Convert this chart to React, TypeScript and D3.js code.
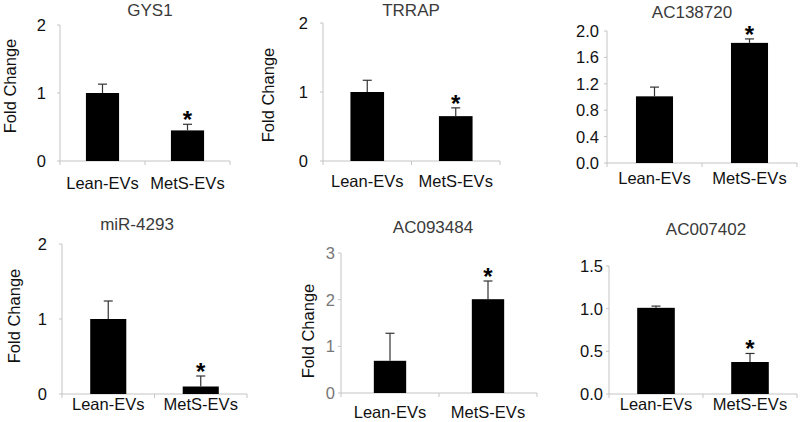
import * as d3 from 'd3';
import React from 'react';

// chart data
const titles = ['GYS1', 'TRRAP', 'AC138720', 'miR-4293', 'AC093484', 'AC007402'];
const categories = ['Lean-EVs', 'MetS-EVs'];
const leanMeans = [1.0, 1.0, 1.01, 1.0, 0.69, 1.01];
const leanErrors = [0.13, 0.17, 0.14, 0.24, 0.59, 0.02];
const metsMeans = [0.45, 0.65, 1.82, 0.1, 2.01, 0.375];
const metsErrors = [0.09, 0.12, 0.06, 0.14, 0.39, 0.1];
const yMaxes = [2, 2, 2, 2, 3, 1.5];
const yTicks = [
  [0, 1, 2],
  [0, 1, 2],
  [0, 0.4, 0.8, 1.2, 1.6, 2.0],
  [0, 1, 2],
  [0, 1, 2, 3],
  [0, 0.5, 1.0, 1.5],
];
const tickDecimals = [0, 0, 1, 0, 0, 1];
const showYTitle = [true, true, false, true, true, false];
const significant = [[false, true], [false, true], [false, true], [false, true], [false, true], [false, true]];

// panel placement in the 809x422 picture
type Layout = {
  x0: number; x1: number; top: number; base: number;
  tx: number; ty: number; lx: number; ly: number;
  catDy: number; tickGap: number; barRatio: number; tickColor: string;
};
const layouts: Layout[] = [
  { x0: 60, x1: 230, top: 25, base: 161, tx: 150, ty: 10, lx: 10, ly: 86, catDy: 22, tickGap: 14, barRatio: 0.39, tickColor: '#111' },
  { x0: 323, x1: 500, top: 23, base: 161, tx: 411, ty: 10, lx: 268, ly: 95, catDy: 20, tickGap: 15, barRatio: 0.38, tickColor: '#111' },
  { x0: 607, x1: 797, top: 31, base: 163, tx: 692, ty: 12, lx: 0, ly: 0, catDy: 15, tickGap: 8, barRatio: 0.39, tickColor: '#111' },
  { x0: 62, x1: 247, top: 244, base: 394, tx: 137, ty: 224, lx: 14, ly: 316, catDy: 10, tickGap: 15, barRatio: 0.39, tickColor: '#111' },
  { x0: 341, x1: 537, top: 253, base: 393, tx: 433, ty: 227, lx: 308, ly: 331, catDy: 19, tickGap: 6, barRatio: 0.33, tickColor: '#777' },
  { x0: 609, x1: 797, top: 266, base: 394, tx: 706, ty: 229, lx: 0, ly: 0, catDy: 10, tickGap: 6, barRatio: 0.4, tickColor: '#111' },
];

const axisColor = '#c4c4c4';
const font = 'Arimo, "Liberation Sans", Arial, sans-serif';

const Panel: React.FC<{ i: number }> = ({ i }) => {
  const L = layouts[i];
  const x = d3.scaleBand<string>()
    .domain(categories)
    .range([L.x0, L.x1])
    .paddingInner(1 - L.barRatio)
    .paddingOuter((1 - L.barRatio) / 2);
  const y = d3.scaleLinear().domain([0, yMaxes[i]]).range([L.base, L.top]);
  const means = [leanMeans[i], metsMeans[i]];
  const errs = [leanErrors[i], metsErrors[i]];
  const fmt = d3.format(`.${tickDecimals[i]}f`);
  const step = x.step();

  return (
    <g>
      <text x={L.tx} y={L.ty} textAnchor="middle" dominantBaseline="central"
        fontSize={17} fill="#3a3a3a" fontFamily={font}>{titles[i]}</text>

      {showYTitle[i] && (
        <text transform={`translate(${L.lx},${L.ly}) rotate(-90)`} textAnchor="middle"
          dominantBaseline="central" fontSize={16.5} fill="#111" fontFamily={font}>Fold Change</text>
      )}

      {/* y axis */}
      <line x1={L.x0} x2={L.x0} y1={L.top} y2={L.base} stroke={axisColor} />
      {yTicks[i].map(t => (
        <g key={t}>
          <line x1={L.x0 - 3} x2={L.x0} y1={y(t)} y2={y(t)} stroke={axisColor} />
          <text x={L.x0 - L.tickGap} y={y(t)} textAnchor="end" dominantBaseline="central"
            fontSize={16.5} fill={L.tickColor} fontFamily={font}>{fmt(t)}</text>
        </g>
      ))}

      {/* x axis */}
      <line x1={L.x0} x2={L.x1} y1={L.base} y2={L.base} stroke={axisColor} />
      {[0, 1, 2].map(k => (
        <line key={k} x1={L.x0 + k * step} x2={L.x0 + k * step} y1={L.base} y2={L.base + 4} stroke={axisColor} />
      ))}

      {categories.map((c, j) => {
        const bx = x(c) as number;
        const cx = bx + x.bandwidth() / 2;
        const errTop = y(means[j] + errs[j]);
        return (
          <g key={c}>
            <rect x={bx} y={y(means[j])} width={x.bandwidth()} height={L.base - y(means[j])} fill="#000" />
            <line x1={cx} x2={cx} y1={y(means[j])} y2={errTop} stroke="#333" strokeWidth={1.2} />
            <line x1={cx - 4.5} x2={cx + 4.5} y1={errTop} y2={errTop} stroke="#333" strokeWidth={1.2} />
            {significant[i][j] && (
              <text x={cx} y={errTop + 4} textAnchor="middle" fontSize={24} fontWeight="bold"
                fill="#000" fontFamily={font}>*</text>
            )}
            <text x={cx} y={L.base + L.catDy} textAnchor="middle" dominantBaseline="central"
              fontSize={16.5} fill="#111" fontFamily={font}>{c}</text>
          </g>
        );
      })}
    </g>
  );
};

const App: React.FC = () => (
  <svg width={809} height={422} style={{ position: 'absolute', left: 0, top: 0, background: '#fff' }}>
    {titles.map((t, i) => <Panel key={t} i={i} />)}
  </svg>
);

export default App;
